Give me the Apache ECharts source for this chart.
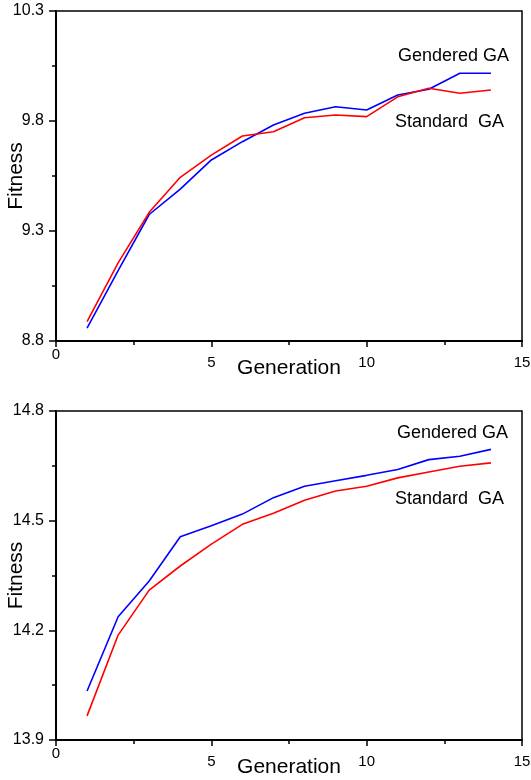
<!DOCTYPE html>
<html>
<head>
<meta charset="utf-8">
<script src="https://cdn.jsdelivr.net/npm/echarts@6/dist/echarts.min.js"></script>
<style>
  html, body { margin: 0; padding: 0; background: #fff; }
  #chart { width: 531px; height: 780px; }
</style>
</head>
<body>
<div id="chart"></div>
<script>
const generations = [1, 2, 3, 4, 5, 6, 7, 8, 9, 10, 11, 12, 13, 14];

// upper panel
const genderedTop = [8.858, 9.12, 9.375, 9.49, 9.623, 9.706, 9.782, 9.835, 9.865, 9.85, 9.918, 9.944, 10.017, 10.017];
const standardTop = [8.888, 9.155, 9.385, 9.544, 9.645, 9.732, 9.751, 9.815, 9.827, 9.82, 9.91, 9.949, 9.926, 9.941];

// lower panel
const genderedBottom = [14.034, 14.237, 14.335, 14.456, 14.486, 14.518, 14.563, 14.594, 14.609, 14.624, 14.64, 14.667, 14.676, 14.695];
const standardBottom = [13.966, 14.187, 14.31, 14.376, 14.436, 14.49, 14.52, 14.556, 14.581, 14.594, 14.617, 14.633, 14.649, 14.658];

const xTicks = [0, 5, 10, 15];
const yTicksTop = [8.8, 9.3, 9.8, 10.3];
const yTicksBottom = [13.9, 14.2, 14.5, 14.8];

const FONT = "'Liberation Sans', Arial, sans-serif";

let myChart = echarts.init(document.getElementById("chart"));

const pairs = (vals) => vals.map((v, i) => [generations[i], v]);

const makeX = (gridIndex) => ({
  type: "value",
  gridIndex: gridIndex,
  min: xTicks[0],
  max: xTicks[xTicks.length - 1],
  interval: xTicks[1] - xTicks[0],
  name: "Generation",
  nameLocation: "middle",
  nameGap: 17,
  nameMoveOverlap: false,
  nameTextStyle: { color: "#000", fontSize: 21, fontFamily: FONT, verticalAlign: "top" },
  axisLine: { show: true, onZero: false, lineStyle: { color: "#000", width: 2 } },
  axisTick: { show: true, inside: false, length: 6, lineStyle: { color: "#000", width: 1.5 } },
  minorTick: { show: true, splitNumber: 2, length: 4, lineStyle: { color: "#000", width: 1.5 } },
  axisLabel: {
    color: "#000",
    fontSize: 15,
    fontFamily: FONT,
    margin: 6,
    formatter: (v) => (v === 0 ? "{z|0}" : "{n|" + v + "}"),
    rich: {
      z: { fontSize: 15, fontFamily: FONT, color: "#000" },
      n: { fontSize: 15, fontFamily: FONT, color: "#000", padding: [8, 0, 0, 0] },
    },
  },
  splitLine: { show: false },
});

const makeY = (gridIndex, ticks) => ({
  type: "value",
  gridIndex: gridIndex,
  min: ticks[0],
  max: ticks[ticks.length - 1],
  interval: +(ticks[1] - ticks[0]).toFixed(2),
  name: "Fitness",
  nameLocation: "middle",
  nameGap: 29,
  nameMoveOverlap: false,
  nameTextStyle: { color: "#000", fontSize: 21, fontFamily: FONT },
  axisLine: { show: true, onZero: false, lineStyle: { color: "#000", width: 2 } },
  axisTick: { show: true, inside: false, length: 7, lineStyle: { color: "#000", width: 1.5 } },
  minorTick: { show: true, splitNumber: 2, length: 4, lineStyle: { color: "#000", width: 1.5 } },
  axisLabel: {
    color: "#000",
    fontSize: 16,
    fontFamily: FONT,
    margin: 12,
    formatter: (v) => v.toFixed(1),
  },
  splitLine: { show: false },
});

const lineSeries = (name, color, data, idx) => ({
  name: name,
  type: "line",
  xAxisIndex: idx,
  yAxisIndex: idx,
  data: pairs(data),
  symbol: "none",
  lineStyle: { color: color, width: 1.6 },
  itemStyle: { color: color },
  animation: false,
});

const label = (text, x, y) => ({
  type: "text",
  x: x,
  y: y,
  style: {
    text: text,
    font: "18px " + FONT,
    fill: "#000",
    textAlign: "left",
    textVerticalAlign: "middle",
  },
});

const option = {
  backgroundColor: "#fff",
  animation: false,
  grid: [
    { left: 56, top: 11, width: 466, height: 330, containLabel: false, outerBoundsMode: "none", show: true, borderColor: "#000", borderWidth: 1.5, backgroundColor: "transparent" },
    { left: 56, top: 411, width: 466, height: 329, containLabel: false, outerBoundsMode: "none", show: true, borderColor: "#000", borderWidth: 1.5, backgroundColor: "transparent" },
  ],
  xAxis: [makeX(0), makeX(1)],
  yAxis: [makeY(0, yTicksTop), makeY(1, yTicksBottom)],
  series: [
    lineSeries("Gendered GA", "#0000ff", genderedTop, 0),
    lineSeries("Standard GA", "#ff0000", standardTop, 0),
    lineSeries("Gendered GA", "#0000ff", genderedBottom, 1),
    lineSeries("Standard GA", "#ff0000", standardBottom, 1),
  ],
  graphic: [
    label("Gendered GA", 398, 56),
    label("Standard  GA", 395, 122),
    label("Gendered GA", 397, 433),
    label("Standard  GA", 395, 499),
  ],
};

myChart.setOption(option);
</script>
</body>
</html>
